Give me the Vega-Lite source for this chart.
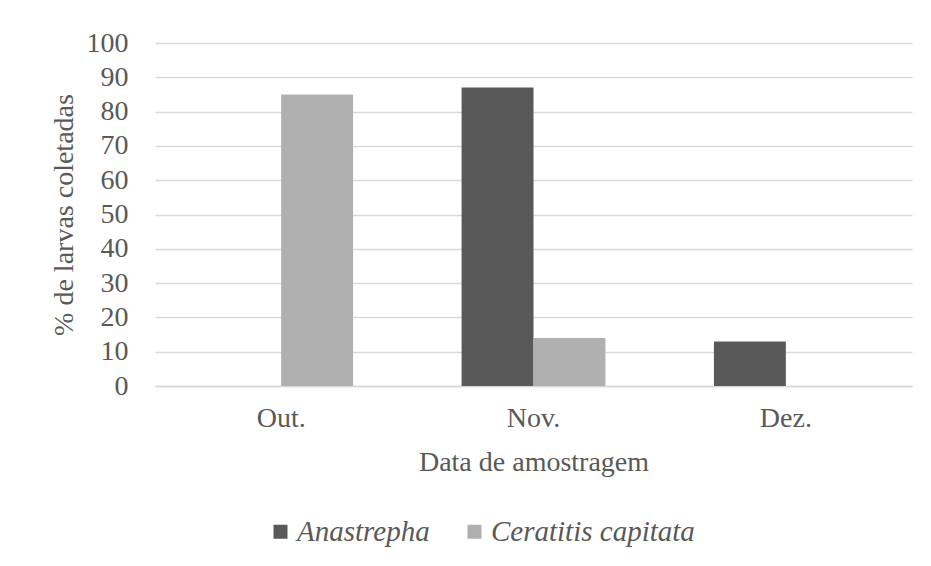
{
  "$schema": "https://vega.github.io/schema/vega-lite/v6.json",
  "width": 757,
  "height": 343,
  "autosize": "none",
  "padding": {"left": 155, "top": 43, "right": 19, "bottom": 180},
  "background": "white",
  "config": {
    "font": "Liberation Serif",
    "view": {"stroke": null}
  },
  "data": {
    "values": [
      {"mes": "Out.", "especie": "Anastrepha", "valor": 0},
      {"mes": "Out.", "especie": "Ceratitis capitata", "valor": 85},
      {"mes": "Nov.", "especie": "Anastrepha", "valor": 87},
      {"mes": "Nov.", "especie": "Ceratitis capitata", "valor": 14},
      {"mes": "Dez.", "especie": "Anastrepha", "valor": 13},
      {"mes": "Dez.", "especie": "Ceratitis capitata", "valor": 0}
    ]
  },
  "mark": {"type": "bar"},
  "encoding": {
    "x": {
      "field": "mes",
      "type": "nominal",
      "sort": ["Out.", "Nov.", "Dez."],
      "scale": {"paddingInner": 0.43, "paddingOuter": 0.215},
      "axis": {
        "title": "Data de amostragem",
        "labelAngle": 0,
        "labelFont": "Liberation Serif",
        "labelFontSize": 28,
        "labelColor": "#595959",
        "labelPadding": 18,
        "ticks": false,
        "domainColor": "#d9d9d9",
        "domainWidth": 1.5,
        "titleFont": "Liberation Serif",
        "titleFontSize": 28,
        "titleFontWeight": "normal",
        "titleColor": "#595959",
        "titlePadding": 16
      }
    },
    "xOffset": {"field": "especie", "type": "nominal", "sort": ["Anastrepha", "Ceratitis capitata"], "scale": {"paddingInner": 0, "paddingOuter": 0}},
    "y": {
      "field": "valor",
      "type": "quantitative",
      "scale": {"domain": [0, 100]},
      "axis": {
        "title": "% de larvas coletadas",
        "values": [0, 10, 20, 30, 40, 50, 60, 70, 80, 90, 100],
        "domain": false,
        "ticks": false,
        "gridColor": "#d9d9d9",
        "gridWidth": 1.5,
        "labelFont": "Liberation Serif",
        "labelFontSize": 28,
        "labelColor": "#595959",
        "labelPadding": 27,
        "titleFont": "Liberation Serif",
        "titleFontSize": 28,
        "titleFontWeight": "normal",
        "titleColor": "#595959",
        "titlePadding": 8
      }
    },
    "color": {
      "field": "especie",
      "type": "nominal",
      "sort": ["Anastrepha", "Ceratitis capitata"],
      "scale": {"domain": ["Anastrepha", "Ceratitis capitata"], "range": ["#595959", "#b0b0b0"]},
      "legend": {
        "title": null,
        "orient": "none",
        "direction": "horizontal",
        "legendX": 111,
        "legendY": 474,
        "symbolType": "square",
        "symbolSize": 196,
        "symbolStrokeWidth": 0,
        "labelFont": "Liberation Serif",
        "labelFontSize": 29,
        "labelFontStyle": "italic",
        "labelColor": "#595959",
        "labelOffset": 2,
        "labelLimit": 400,
        "columnPadding": 30
      }
    }
  }
}
